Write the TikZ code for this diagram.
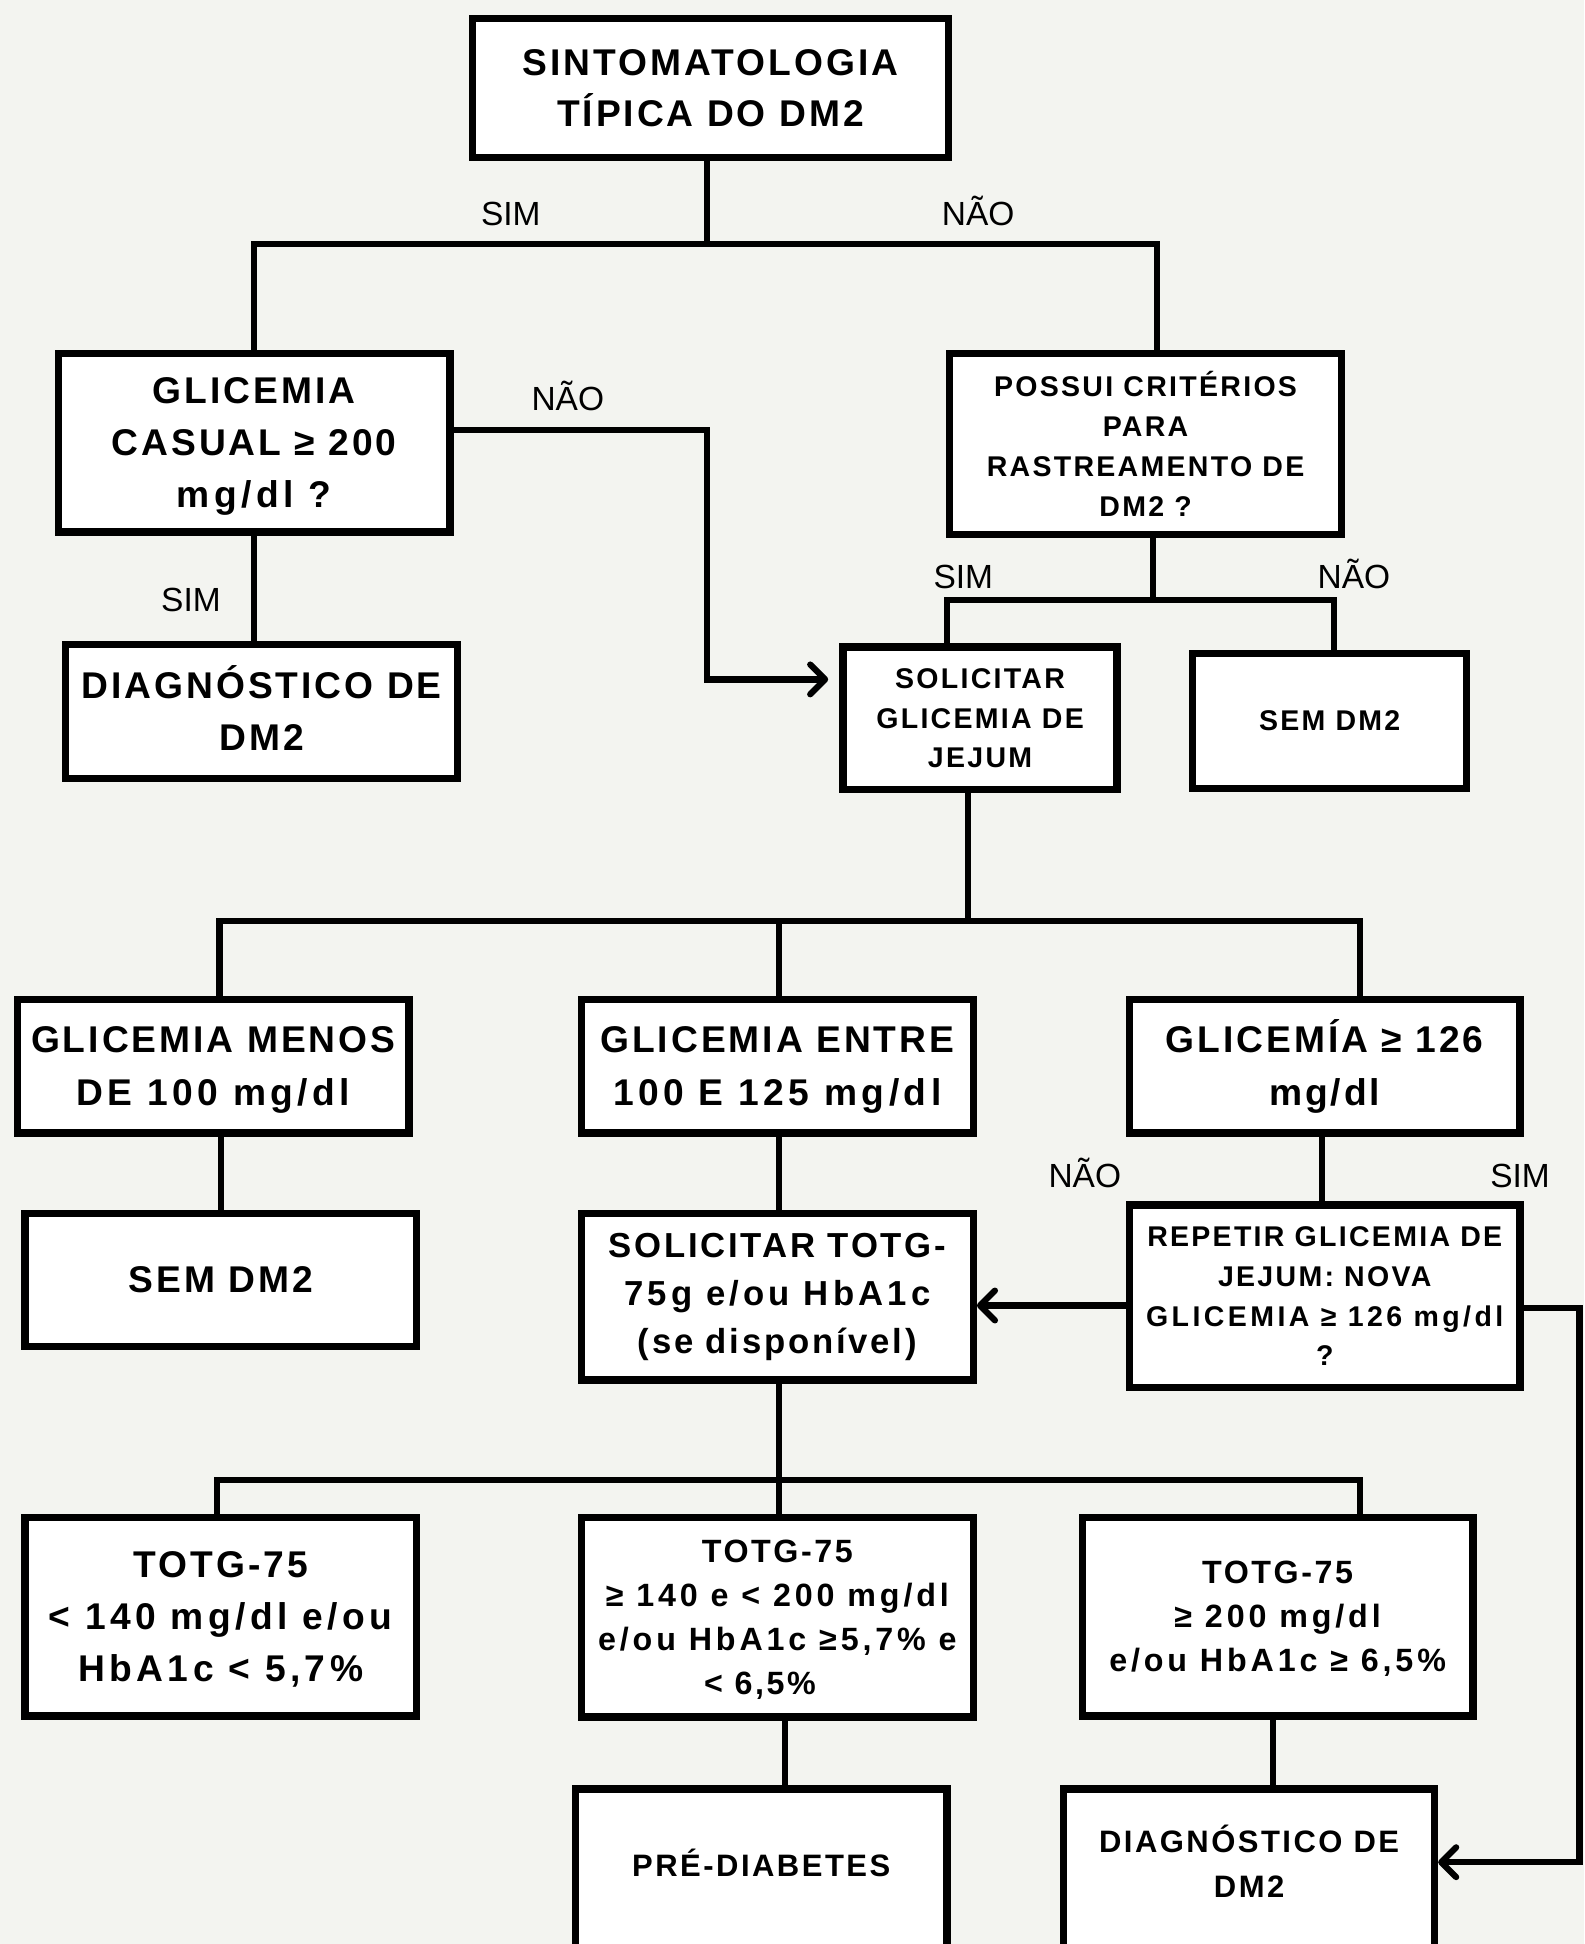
\documentclass[tikz,border=0pt]{standalone}
\usepackage{fontspec}
\usepackage{tikz}
\usetikzlibrary{arrows.meta}
\newfontfamily\caixafont{Liberation Sans}[LetterSpace=8]
\newfontfamily\largafont{Liberation Sans}[LetterSpace=12]
\newfontfamily\rotulofont{Liberation Sans}
\definecolor{fundo}{HTML}{F3F4F0}
\tikzset{
	caixa/.style={draw, line width=6pt, fill=white, align=center, inner sep=0pt},
	letra/.style n args={2}{font=\caixafont\bfseries\fontsize{#1}{#2}\selectfont},
	ligacao/.style={line width=5pt},
	seta/.style={ligacao, -{Straight Barb[length=12pt,width=24pt,round]}},
	rotulo/.style={anchor=base, font=\rotulofont\fontsize{27}{30}\selectfont}
}

\begin{document}
\begin{tikzpicture}[x=1pt, y=-1pt]
			%%%%% START %%%%%
			\useasboundingbox (0,0) rectangle (1278,1568);
			\clip (0,0) rectangle (1278,1568);
			\fill[fundo] (0,0) rectangle (1278,1568);
			
			% primeira decisao
			\node[caixa, letra={30}{41}, minimum width=384, minimum height=112] (sint) at (573,71) {SINTOMATOLOGIA\\TÍPICA DO DM2};
			\node[caixa, letra={30}{42}, minimum width=316, minimum height=144, text depth=0pt] (casual) at (205,357) {GLICEMIA\\CASUAL ≥ 200\\{\largafont mg/dl ?}};
			\node[caixa, letra={23}{32.3}, minimum width=316, minimum height=146] (possui) at (924,358) {POSSUI CRITÉRIOS\\PARA\\RASTREAMENTO DE\\DM2 ?};
			\node[caixa, letra={30}{42}, minimum width=316, minimum height=108, text depth=6pt] (diag1) at (211,574) {DIAGNÓSTICO DE\\DM2};
			\node[caixa, letra={23}{32}, minimum width=221, minimum height=115] (jejum) at (790.5,579.5) {SOLICITAR\\GLICEMIA DE\\JEJUM};
			\node[caixa, letra={23}{30}, minimum width=221, minimum height=109] (semA) at (1072.5,581.5) {SEM DM2};
			
			% glicemia de jejum
			\node[caixa, letra={30}{43}, minimum width=316, minimum height=108, text depth=0pt] (menos) at (172,860) {GLICEMIA MENOS\\{\largafont DE 100 mg/dl}};
			\node[caixa, letra={30}{43}, minimum width=316, minimum height=108, text depth=0pt] (entre) at (627,860) {GLICEMIA ENTRE\\{\largafont 100 E 125 mg/dl}};
			\node[caixa, letra={30}{43}, minimum width=315, minimum height=108] (maior) at (1068.5,860) {GLICEMÍA ≥ 126\\mg/dl};
			\node[caixa, letra={30}{30}, minimum width=316, minimum height=107] (semB) at (178,1032.5) {SEM DM2};
			\node[caixa, letra={28}{39}, minimum width=316, minimum height=134] (totg) at (627,1046) {SOLICITAR TOTG-\\{\largafont 75g e/ou HbA1c}\\(se disponível)};
			\node[caixa, letra={23}{32}, minimum width=315, minimum height=147] (repetir) at (1068.5,1045.5) {REPETIR GLICEMIA DE\\JEJUM: NOVA\\{\largafont GLICEMIA ≥ 126 mg/dl}\\?};
			
			% TOTG
			\node[caixa, letra={30}{42}, minimum width=316, minimum height=160, text depth=0pt] (tmenor) at (178,1304) {TOTG-75\\{\largafont < 140 mg/dl e/ou}\\{\largafont HbA1c < 5,7\%}};
			\node[caixa, letra={26}{35.3}, minimum width=316, minimum height=161, text depth=0pt] (tentre) at (627,1304.5) {TOTG-75\\{\largafont ≥ 140 e < 200 mg/dl}\\{\largafont e/ou HbA1c ≥5,7\% e}\\< 6,5\%\hspace*{28pt}};
			\node[caixa, letra={26}{35.5}, minimum width=315, minimum height=160, text depth=-1pt] (tmaior) at (1030.5,1304) {TOTG-75\\{\largafont ≥ 200 mg/dl}\\{\largafont e/ou HbA1c ≥ 6,5\%}};
			\node[caixa, letra={25}{30}, minimum width=300, minimum height=129, text depth=10pt] (pre) at (614,1507.5) {PRÉ-DIABETES};
			\node[caixa, letra={25}{36}, minimum width=299, minimum height=129, text depth=12pt] (diag2) at (1007.5,1507.5) {DIAGNÓSTICO DE\\DM2};
			
			% ligacoes
			\draw[ligacao] ([xshift=-3]sint.south) -- ++(0,67) coordinate (ramo1);
			\draw[ligacao] (casual.north) |- (ramo1) -| ([xshift=9]possui.north);
			\draw[ligacao] (casual.south) -- (casual.south |- diag1.north);
			\draw[seta, shorten >=9pt] ([yshift=10]casual.east) -- ++(204,0) |- ([yshift=31.5]jejum.west);
			
			\draw[ligacao] ([xshift=6]possui.south) -- ++(0,50) coordinate (ramo2);
			\draw[ligacao] ([xshift=-26.5]jejum.north) |- (ramo2) -| ([xshift=3.5]semA.north);
			
			\draw[ligacao] ([xshift=-9.5]jejum.south) -- ++(0,103) coordinate (ramo3);
			\draw[ligacao] ([xshift=5]menos.north) |- (ramo3) -| ([xshift=28.5]maior.north);
			\draw[ligacao] ([xshift=1]entre.north) -- ([xshift=1]entre.north |- ramo3);
			
			\draw[ligacao] ([xshift=6]menos.south) -- ([xshift=6]menos.south |- semB.north);
			\draw[ligacao] ([xshift=1]entre.south) -- ([xshift=1]entre.south |- totg.north);
			\draw[ligacao] ([xshift=-2.5]maior.south) -- ([xshift=-2.5]maior.south |- repetir.north);
			\draw[seta] ([yshift=-7.5]repetir.west) -- ([yshift=-7.5]repetir.west -| totg.east);
			\draw[seta] ([yshift=-9.5]repetir.east) -- ++(45,0) |- ([yshift=5.5]diag2.east);
			
			\draw[ligacao] ([xshift=1]totg.south) -- ++(0,78) coordinate (ramo4);
			\draw[ligacao] ([xshift=-3]tmenor.north) |- (ramo4) -| ([xshift=66.5]tmaior.north);
			\draw[ligacao] ([xshift=1]tentre.north) -- ([xshift=1]tentre.north |- ramo4);
			\draw[ligacao] ([xshift=6]tentre.south) -- ([xshift=6]tentre.south |- pre.north);
			\draw[ligacao] ([xshift=-3.5]tmaior.south) -- ([xshift=-3.5]tmaior.south |- diag2.north);
			
			% rotulos
			\node[rotulo] (simA) at (412,182) {SIM};
			\node[rotulo] (naoA) at (789,182) {NÃO};
			\node[rotulo] (naoB) at (458,331) {NÃO};
			\node[rotulo] (simB) at (154,493) {SIM};
			\node[rotulo] (simC) at (777,475) {SIM};
			\node[rotulo] (naoC) at (1092,475) {NÃO};
			\node[rotulo] (naoD) at (875,958) {NÃO};
			\node[rotulo] (simD) at (1226,958) {SIM};
			
			%%%%% END %%%%%
\end{tikzpicture}
\end{document}
